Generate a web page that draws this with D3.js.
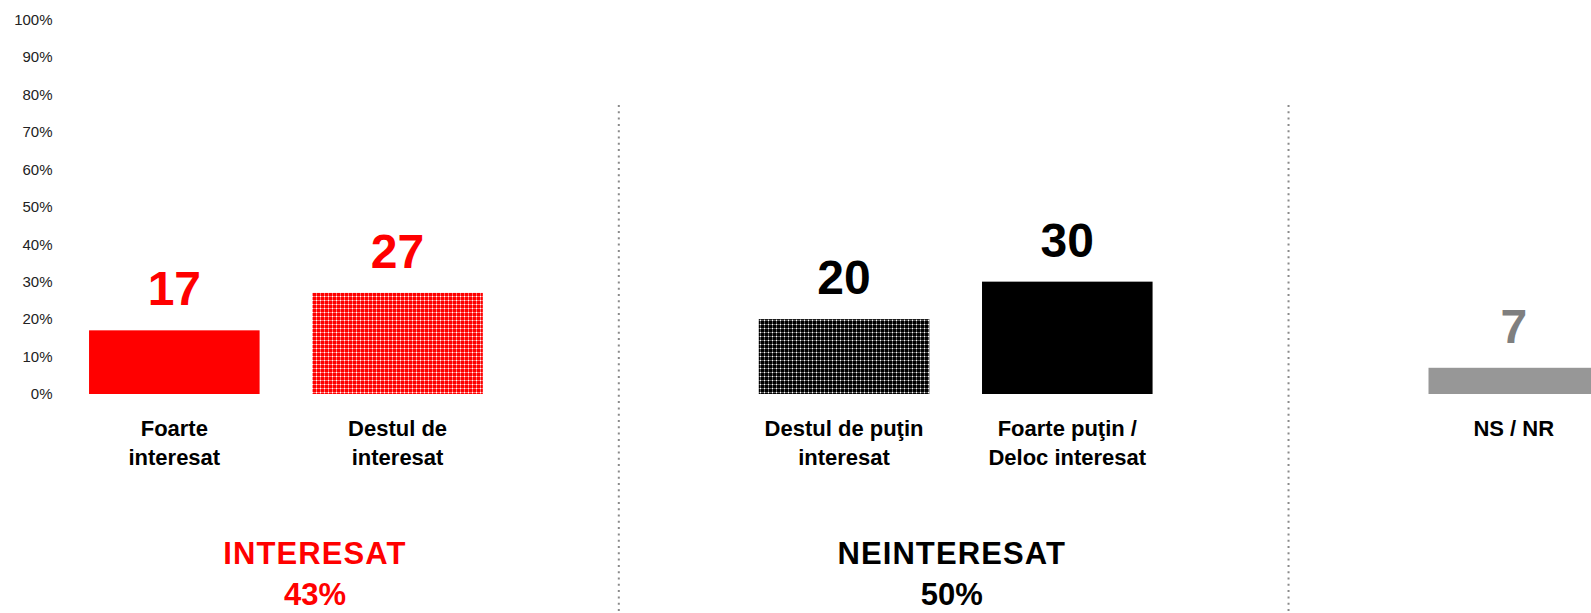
<!DOCTYPE html>
<html>
<head>
<meta charset="utf-8">
<script src="https://cdn.jsdelivr.net/npm/d3@7/dist/d3.min.js"></script>
<style>
  html, body { margin: 0; padding: 0; background: #fff; }
  svg { display: block; font-family: "Liberation Sans", Arial, sans-serif; }
</style>
</head>
<body>
<svg id="chart" width="1591" height="613"></svg>
<script>
// Interest in the topic, share of respondents (%)
const categories = [
  "Foarte interesat",
  "Destul de interesat",
  "Destul de puţin interesat",
  "Foarte puţin / Deloc interesat",
  "NS / NR"
];
const categoryLines = [
  ["Foarte", "interesat"],
  ["Destul de", "interesat"],
  ["Destul de puţin", "interesat"],
  ["Foarte puţin /", "Deloc interesat"],
  ["NS / NR"]
];
const values = [17, 27, 20, 30, 7];

// Summary groups shown under the bars
const groupNames = ["INTERESAT", "NEINTERESAT"];
const groupTotals = [43, 50];
const groupMembers = [
  ["Foarte interesat", "Destul de interesat"],
  ["Destul de puţin interesat", "Foarte puţin / Deloc interesat"]
];

// Axis ticks
const yTicks = [0, 10, 20, 30, 40, 50, 60, 70, 80, 90, 100];

// Layout slots: bars plus two empty slots that hold the group separators
const slots = [categories[0], categories[1], "sep1", categories[2], categories[3], "sep2", categories[4]];
const separators = ["sep1", "sep2"];

// Styling
const fills = ["#ff0000", "url(#dotRed)", "url(#dotBlack)", "#000000", "#979797"];
const labelColors = ["#ff0000", "#ff0000", "#000000", "#000000", "#7f7f7f"];
const groupColors = ["#ff0000", "#000000"];
const groupShift = [29, -4];

const svg = d3.select("#chart");

// Fine dotted textures for the "Destul de ..." bars
const defs = svg.append("defs");
function dotPattern(id, base, line) {
  const p = defs.append("pattern")
    .attr("id", id)
    .attr("patternUnits", "userSpaceOnUse")
    .attr("width", 4).attr("height", 4);
  p.append("rect").attr("width", 4).attr("height", 4).attr("fill", base);
  p.append("rect").attr("width", 4).attr("height", 1).attr("fill", line);
  p.append("rect").attr("width", 1).attr("height", 4).attr("fill", line);
  p.append("rect").attr("width", 1).attr("height", 1).attr("fill", "#ffffff");
}
dotPattern("dotRed", "#ff0000", "#ff7070");
dotPattern("dotBlack", "#000000", "#5c5c5c");

const x = d3.scaleBand()
  .domain(slots)
  .range([62.7, 1625.4])
  .paddingInner(0.236)
  .paddingOuter(0.118);

const y = d3.scaleLinear()
  .domain([0, 100])
  .range([394, 19.5]);

// Y axis: percentage labels only, no line or ticks
const yAxis = d3.axisLeft(y)
  .tickValues(yTicks)
  .tickFormat(d => d + "%")
  .tickSize(0)
  .tickPadding(0);

const gy = svg.append("g")
  .attr("transform", "translate(52.5,0)")
  .call(yAxis);
gy.select(".domain").remove();
gy.selectAll("text")
  .attr("font-family", "Liberation Sans, Arial, sans-serif")
  .attr("font-size", 15)
  .attr("fill", "#222");

// Dotted separators between groups
svg.selectAll("line.sep")
  .data(separators)
  .join("line")
  .attr("class", "sep")
  .attr("x1", d => x(d) + x.bandwidth() / 2 - 2)
  .attr("x2", d => x(d) + x.bandwidth() / 2 - 2)
  .attr("y1", 105)
  .attr("y2", 613)
  .attr("stroke", "#8a8a8a")
  .attr("stroke-width", 2)
  .attr("stroke-dasharray", "2,4.3");

// Bars
svg.selectAll("rect.bar")
  .data(categories)
  .join("rect")
  .attr("class", "bar")
  .attr("x", d => x(d))
  .attr("y", (d, i) => y(values[i]))
  .attr("width", x.bandwidth())
  .attr("height", (d, i) => y(0) - y(values[i]))
  .attr("fill", (d, i) => fills[i]);

// Value labels above the bars
svg.selectAll("text.value")
  .data(categories)
  .join("text")
  .attr("class", "value")
  .attr("x", d => x(d) + x.bandwidth() / 2)
  .attr("y", (d, i) => y(values[i]) - 25)
  .attr("text-anchor", "middle")
  .attr("font-weight", "bold")
  .attr("font-size", 48)
  .attr("fill", (d, i) => labelColors[i])
  .text((d, i) => values[i]);

// Category labels under the bars
const cat = svg.selectAll("text.cat")
  .data(categories)
  .join("text")
  .attr("class", "cat")
  .attr("text-anchor", "middle")
  .attr("font-weight", "bold")
  .attr("font-size", 22)
  .attr("fill", "#000");
cat.selectAll("tspan")
  .data((d, i) => categoryLines[i].map(t => ({ t, c: d })))
  .join("tspan")
  .attr("x", o => x(o.c) + x.bandwidth() / 2)
  .attr("y", (o, j) => 436 + j * 29)
  .text(o => o.t);

// Group totals
const grp = svg.selectAll("g.group")
  .data(groupNames)
  .join("g")
  .attr("class", "group")
  .attr("transform", (d, i) => {
    const cx = d3.mean(groupMembers[i], c => x(c) + x.bandwidth() / 2) + groupShift[i];
    return `translate(${cx},0)`;
  });
grp.append("text")
  .attr("y", 564)
  .attr("text-anchor", "middle")
  .attr("font-weight", "bold")
  .attr("font-size", 31)
  .attr("letter-spacing", 1.1)
  .attr("fill", (d, i) => groupColors[i])
  .text(d => d);
grp.append("text")
  .attr("y", 605)
  .attr("text-anchor", "middle")
  .attr("font-weight", "bold")
  .attr("font-size", 31)
  .attr("fill", (d, i) => groupColors[i])
  .text((d, i) => groupTotals[i] + "%");
</script>
</body>
</html>
